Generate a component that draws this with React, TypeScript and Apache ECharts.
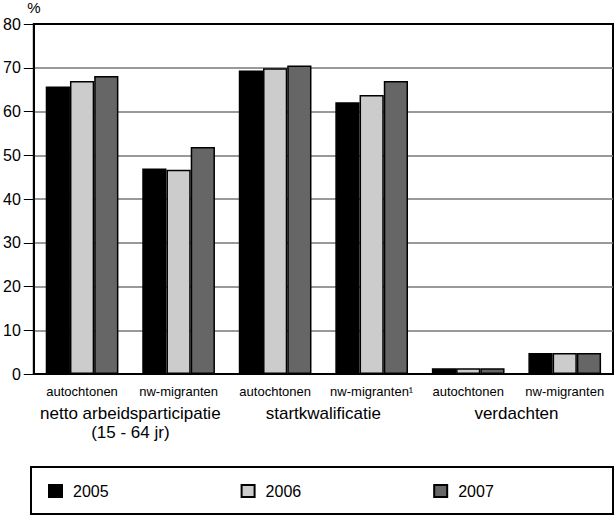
import React, { useEffect, useRef } from "react";
import * as echarts from "echarts";

const categories = [
  "autochtonen",
  "nw-migranten",
  "autochtonen",
  "nw-migranten¹",
  "autochtonen",
  "nw-migranten",
];
const groups = ["netto arbeidsparticipatie\n(15 - 64 jr)", "startkwalificatie", "verdachten"];
const years = ["2005", "2006", "2007"];
const values2005 = [65.7, 47.0, 69.4, 62.1, 1.3, 4.8];
const values2006 = [67.0, 46.7, 69.9, 63.8, 1.3, 4.8];
const values2007 = [68.1, 51.9, 70.5, 67.0, 1.3, 4.8];
const colors = ["#000000", "#cccccc", "#666666"];
const FONT = "Liberation Sans";

export default function App() {
  const ref = useRef<HTMLDivElement>(null);
  useEffect(() => {
    if (!ref.current) return;
    const chart = echarts.init(ref.current, null, { renderer: "svg" });
    const seriesData = [values2005, values2006, values2007];
    chart.setOption({
      animation: false,
      textStyle: { fontFamily: FONT, color: "#000" },
      grid: {
        left: 31,
        right: 2,
        top: 24,
        bottom: 142,
        show: true,
        borderColor: "#000",
        borderWidth: 2,
        containLabel: false,
      },
      legend: {
        left: 48,
        top: 483,
        padding: 0,
        itemWidth: 13,
        itemHeight: 12,
        itemGap: 132,
        icon: "rect",
        data: years,
        textStyle: { fontFamily: FONT, fontSize: 16, color: "#000", padding: [0, 0, 0, 6] },
      },
      xAxis: [
        {
          type: "category",
          data: categories,
          axisLine: { lineStyle: { color: "#000", width: 2 } },
          axisTick: { length: 10, lineStyle: { color: "#000", width: 1 } },
          axisLabel: { fontFamily: FONT, fontSize: 13, color: "#000", margin: 11, interval: 0 },
        },
        {
          type: "category",
          data: groups,
          position: "bottom",
          gridIndex: 0,
          axisLine: { show: false },
          axisTick: { show: false },
          axisLabel: {
            fontFamily: FONT,
            fontSize: 17,
            color: "#000",
            margin: 30,
            lineHeight: 19,
            interval: 0,
          },
        },
      ],
      yAxis: {
        type: "value",
        min: 0,
        max: 80,
        interval: 10,
        name: "%",
        nameGap: 9,
        nameTextStyle: { fontFamily: FONT, fontSize: 15, color: "#000", align: "center" },
        axisLine: { show: true, lineStyle: { color: "#000", width: 2 } },
        axisTick: { show: true, length: 10, lineStyle: { color: "#000", width: 1 } },
        axisLabel: { fontFamily: FONT, fontSize: 16, color: "#000", margin: 13 },
        splitLine: {
          show: true,
          lineStyle: {
            color: ["#000", "#777", "#777", "#777", "#777", "#777", "#777", "#777", "#000"],
            width: 1.5,
          },
        },
      },
      graphic: [
        {
          type: "rect",
          shape: { x: 31, y: 467, width: 582, height: 47 },
          style: { fill: "none", stroke: "#000", lineWidth: 2 },
          z: 100,
        },
      ],
      series: years.map((y, i) => ({
        name: y,
        type: "bar",
        xAxisIndex: 0,
        data: seriesData[i],
        barGap: "0%",
        barCategoryGap: "24.7%",
        itemStyle: { color: colors[i], borderColor: "#000", borderWidth: 1.5 },
      })),
    });
    return () => chart.dispose();
  }, []);
  return (
    <div
      ref={ref}
      style={{ position: "absolute", left: 0, top: 0, width: 615, height: 516, background: "#fff" }}
    />
  );
}
